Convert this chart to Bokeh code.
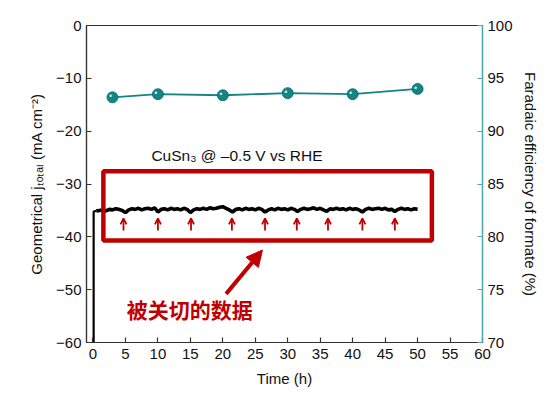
from bokeh.plotting import figure
from bokeh.models import (Range1d, LinearAxis, FixedTicker, CustomJSTickFormatter, Label,
                          Arrow, OpenHead, NormalHead, BoxAnnotation, ColumnDataSource)
from bokeh.core.properties import value
from bokeh.embed import file_html
from bokeh.resources import INLINE

# ---------------- data ----------------
fe_time = [3, 10, 20, 30, 40, 50]
fe_values = [93.2, 93.5, 93.4, 93.6, 93.5, 94.0]

start_time = [0.1, 0.1, 0.5]
start_j = [-62.0, -35.2, -35.1]

trace_time = [0.5 * (i + 1) for i in range(100)]
trace_j = [
    -35.1, -35.0, -34.9, -35.1, -34.8, -34.9, -34.7, -34.8, -35.0, -35.4,
    -34.9, -34.7, -34.8, -34.6, -34.9, -34.7, -34.6, -34.8, -34.5, -35.3,
    -34.8, -34.7, -34.9, -34.6, -34.8, -34.7, -34.9, -34.6, -34.8, -35.4,
    -34.9, -34.7, -34.8, -34.6, -34.8, -34.5, -34.7, -34.6, -34.4, -34.3,
    -34.6, -34.9, -35.3, -34.8, -34.7, -34.9, -34.6, -34.8, -34.7, -34.9,
    -34.6, -34.8, -35.3, -34.9, -34.7, -34.9, -34.6, -34.8, -34.7, -34.9,
    -34.6, -34.8, -35.2, -34.8, -34.6, -34.8, -34.7, -34.5, -34.8, -34.6,
    -34.9, -35.2, -34.7, -34.8, -34.6, -34.8, -34.7, -34.9, -34.6, -34.8,
    -34.7, -34.9, -35.3, -34.8, -34.6, -34.8, -34.7, -34.6, -34.8, -34.6,
    -34.9, -34.8, -35.2, -34.8, -34.6, -34.8, -34.7, -34.9, -34.7, -34.8,
]

arrow_time = [4.7, 10.0, 15.1, 21.4, 26.5, 31.4, 36.2, 41.5, 46.5]

x_ticks = list(range(0, 61, 5))
left_ticks = list(range(-60, 1, 10))
right_ticks = list(range(70, 101, 5))

RED = "#c00000"
TEAL = "#128585"
TEAL_AX = "#4fa8a8"
FONT = "Liberation Sans"

p = figure(width=546, height=392, output_backend="svg", toolbar_location=None,
           x_range=Range1d(-1, 60), y_range=Range1d(-60, 0),
           min_border_left=86, min_border_right=64, min_border_top=25, min_border_bottom=50)
p.extra_y_ranges = {"fe": Range1d(70, 100)}
p.xgrid.visible = False
p.ygrid.visible = False
p.outline_line_color = "#333333"
p.outline_line_width = 1.2
p.background_fill_color = "white"
p.border_fill_color = "white"

minus_fmt = CustomJSTickFormatter(code="return tick < 0 ? '\u2212' + Math.abs(tick) : String(tick);")

def style_axis(ax, color="#333333"):
    ax.axis_line_color = color
    ax.axis_line_width = 1.2
    ax.major_tick_line_color = color
    ax.major_tick_line_width = 1.2
    ax.major_tick_in = 5
    ax.major_tick_out = 0
    ax.minor_tick_line_color = None
    ax.major_label_text_font = FONT
    ax.major_label_text_font_size = "15px"
    ax.major_label_text_color = "#111111"
    ax.axis_label_text_font = FONT
    ax.axis_label_text_font_size = "15px"
    ax.axis_label_text_font_style = "normal"
    ax.axis_label_text_color = "#111111"

xa = p.xaxis[0]
style_axis(xa)
xa.ticker = FixedTicker(ticks=x_ticks)
xa.axis_label = "Time (h)"
xa.major_label_standoff = 6
xa.axis_label_standoff = 8

ya = p.yaxis[0]
style_axis(ya)
ya.ticker = FixedTicker(ticks=left_ticks)
ya.formatter = minus_fmt
ya.axis_label = "Geometrical j\u209c\u2092\u209c\u2090\u2097 (mA cm\u207b\u00b2)"
ya.major_label_standoff = 5
ya.axis_label_standoff = 8

ra = LinearAxis(y_range_name="fe")
style_axis(ra, TEAL_AX)
ra.ticker = FixedTicker(ticks=right_ticks)
ra.axis_label = "Faradaic efficiency of formate (%)"
ra.major_label_standoff = 5
ra.axis_label_standoff = 6
p.add_layout(ra, "right")

# current trace
p.line(start_time, start_j, line_color="black", line_width=2.2)
p.line(trace_time, trace_j, line_color="black", line_width=3.6)

# faradaic efficiency
p.line(fe_time, fe_values, y_range_name="fe", line_color=TEAL, line_width=1.8)
p.scatter(fe_time, fe_values, y_range_name="fe", size=11, fill_color=TEAL,
          line_color="#0a6666", line_width=0.8)
p.text(fe_time, fe_values, text=value("\u2022"), y_range_name="fe", x_offset=-2, y_offset=-1,
       text_color="#e6f4f4", text_alpha=0.9, text_font_size="9px",
       text_align="center", text_baseline="middle")

# red box
p.add_layout(BoxAnnotation(left=1.6, right=52.2, top=-27.6, bottom=-40.7,
                           fill_alpha=0, line_color=RED, line_alpha=1.0, line_width=4.5))

# small red arrows
asrc = ColumnDataSource(dict(x0=arrow_time, y0=[-38.8] * len(arrow_time),
                             x1=arrow_time, y1=[-36.5] * len(arrow_time)))
p.add_layout(Arrow(source=asrc, x_start="x0", y_start="y0", x_end="x1", y_end="y1",
                   line_color=RED, line_width=1.8,
                   end=OpenHead(size=6, line_color=RED, line_width=1.8)))

# big arrow
p.add_layout(Arrow(x_start=20.5, y_start=-50.8, x_end=26.1, y_end=-42.5,
                   line_color=RED, line_width=4,
                   end=NormalHead(size=16, fill_color=RED, line_color=RED)))

p.add_layout(Label(x=9.0, y=-24.6, text="CuSn\u2083 @ \u20130.5 V vs RHE",
                   text_font=FONT, text_font_size="15.5px", text_color="#111111",
                   text_baseline="middle"))
p.add_layout(Label(x=5.2, y=-53.6, text="被关切的数据",
                   text_font="Noto Sans CJK SC", text_font_size="21px", text_color=RED,
                   text_font_style="bold", text_baseline="middle"))
p.add_layout(Label(x=-12.4, y=1.9, text="f", text_font=FONT, text_font_size="15px",
                   text_font_style="bold", text_color="black", text_baseline="middle"))

open("out.html", "w").write(file_html(p, INLINE))
